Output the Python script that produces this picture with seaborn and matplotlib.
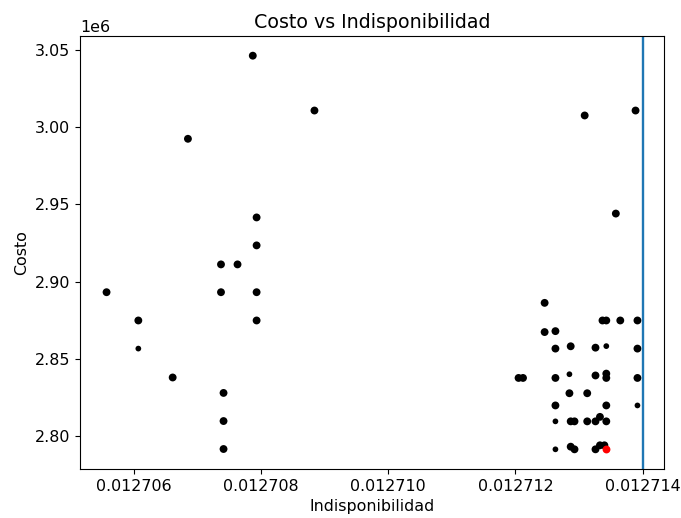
import numpy as np
import pandas as pd
import seaborn as sns
from matplotlib import pyplot as plt

# Indisponibilidad / Costo of every evaluated solution
indisponibilidad = [
    0.01270787, 0.01270884, 0.01270685, 0.01270793, 0.01270793,
    0.01270737, 0.01270763, 0.01270557, 0.01270737, 0.01270793,
    0.01270607, 0.01270793, 0.01270607, 0.01270661, 0.01270741,
    0.01270741, 0.01270741,
    0.01271246, 0.01271337, 0.01271343, 0.01271365, 0.01271392,
    0.01271246, 0.01271263, 0.01271263, 0.01271287, 0.01271326,
    0.01271343, 0.01271392, 0.01271205, 0.01271212, 0.01271263,
    0.01271285, 0.01271326, 0.01271343, 0.01271343, 0.01271392,
    0.01271285, 0.01271313, 0.01271263, 0.01271343, 0.01271392,
    0.01271263, 0.01271287, 0.01271293, 0.01271313, 0.01271326,
    0.01271333, 0.01271343, 0.01271263, 0.01271287, 0.01271293,
    0.01271326, 0.01271333, 0.01271340, 0.01271309, 0.01271389,
    0.01271358,
]
costo = [
    3046200, 3010700, 2992400, 2941500, 2923400,
    2911100, 2911100, 2893100, 2893100, 2893100,
    2874800, 2874800, 2856600, 2837900, 2827900,
    2809700, 2791600,
    2886200, 2874800, 2874800, 2874800, 2874800,
    2867300, 2867900, 2856600, 2858100, 2857200,
    2858200, 2856600, 2837600, 2837600, 2837600,
    2840000, 2839200, 2840400, 2837600, 2837600,
    2827700, 2827700, 2819800, 2819800, 2819800,
    2809500, 2809500, 2809500, 2809500, 2809500,
    2812400, 2809500, 2791400, 2793100, 2791400,
    2791400, 2794000, 2794000, 3007500, 3010700,
    2944000,
]
tamano = [
    'g', 'g', 'g', 'g', 'g', 'g', 'g', 'g', 'g', 'g',
    'g', 'g', 'p', 'g', 'g', 'g', 'g',
    'g', 'g', 'g', 'g', 'g', 'g', 'g', 'g', 'g', 'g',
    'p', 'g', 'g', 'g', 'g', 'p', 'g', 'g', 'g', 'g',
    'g', 'g', 'g', 'g', 'p', 'p', 'g', 'g', 'g', 'g',
    'g', 'g', 'p', 'g', 'g', 'g', 'g', 'g', 'g', 'g',
    'g',
]

# best solution (red) and limit line
mejor_indisp = [0.01271343]
mejor_costo = [2791400]
limite = 0.012714

df = pd.DataFrame({'Indisponibilidad': indisponibilidad, 'Costo': costo, 'tam': tamano})
mejor = pd.DataFrame({'Indisponibilidad': mejor_indisp, 'Costo': mejor_costo})

plt.rcParams['font.size'] = 11.4

fig, ax = plt.subplots(figsize=(6.81, 5.18), dpi=100)
fig.subplots_adjust(left=80 / 681, right=664 / 681, bottom=(518 - 469) / 518, top=(518 - 36) / 518)

sns.scatterplot(data=df, x='Indisponibilidad', y='Costo', size='tam', sizes={'g': 32, 'p': 17},
                color='black', linewidth=0, legend=False, ax=ax)
sns.scatterplot(data=mejor, x='Indisponibilidad', y='Costo', color='red', s=32, linewidth=0, ax=ax)
ax.axvline(limite, color='#1f77b4', linewidth=1.7)

ax.ticklabel_format(axis='x', useOffset=False)
ax.set_title('Costo vs Indisponibilidad')

plt.savefig('out.png', dpi=100)
